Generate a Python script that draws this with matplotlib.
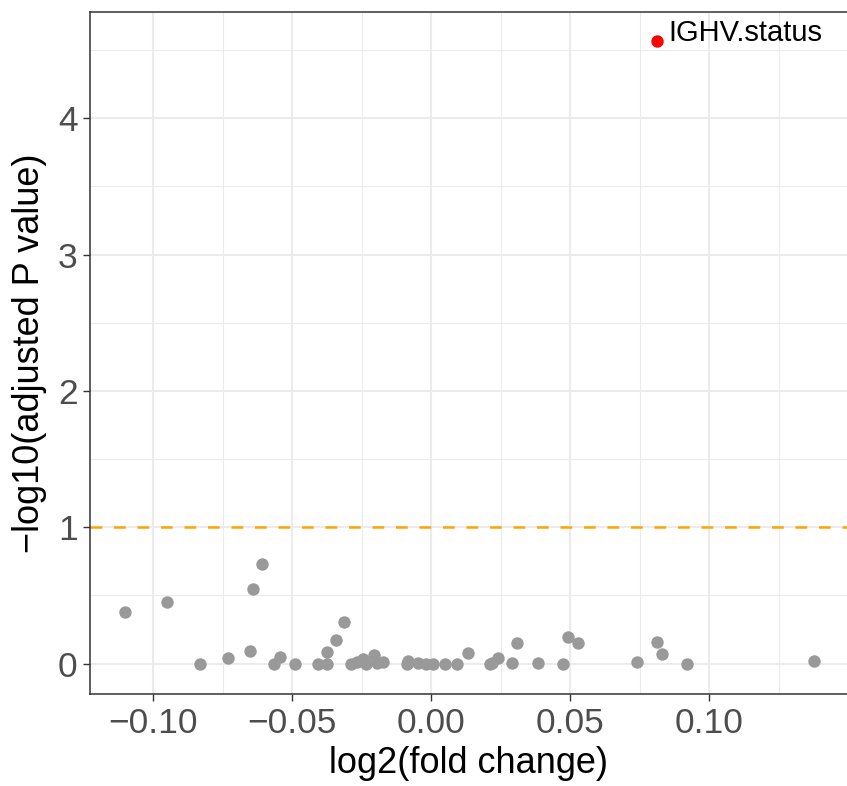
import numpy as np
import matplotlib.pyplot as plt

plt.rcParams['font.family'] = ['Liberation Sans', 'DejaVu Sans']

# log2 fold change and -log10 adjusted p of the non-significant features
logfc = [-0.1101, -0.0949, -0.0832, -0.0731, -0.0652, -0.0639, -0.0608, -0.0567,
         -0.0543, -0.0489, -0.0408, -0.0375, -0.0374, -0.0344, -0.0315, -0.0288,
         -0.0267, -0.0244, -0.0236, -0.0204, -0.0195, -0.0172, -0.0087, -0.0082,
         -0.0048, -0.0018, 0.0008, 0.0050, 0.0094, 0.0133, 0.0213, 0.0220,
         0.0242, 0.0290, 0.0308, 0.0384, 0.0476, 0.0494, 0.0530, 0.0740,
         0.0812, 0.0832, 0.0920, 0.1379]
logp = [0.378, 0.450, 0.0, 0.043, 0.092, 0.548, 0.730, 0.0,
        0.045, 0.0, 0.0, 0.0, 0.087, 0.175, 0.302, 0.0,
        0.010, 0.030, 0.0, 0.060, 0.003, 0.010, 0.0, 0.015,
        0.003, 0.0, 0.0, 0.0, 0.0, 0.080, 0.0, 0.003,
        0.038, 0.003, 0.153, 0.003, 0.0, 0.197, 0.148, 0.010,
        0.160, 0.070, 0.0, 0.020]

# the one significant feature
sig_name = "IGHV.status"
sig_fc = 0.0813
sig_p = 4.566

cutoff = 1.0

fig = plt.figure(figsize=(8.47, 7.86), dpi=100)
ax = fig.add_axes([0.1063, 0.117, 0.8937, 0.8678])

ax.scatter(logfc, logp, s=80, color='#999999', linewidths=0, zorder=3)
ax.scatter([sig_fc], [sig_p], s=80, color='#FF0000', linewidths=0, zorder=4)
ax.annotate(sig_name, (sig_fc, sig_p), xytext=(8, 0), textcoords='offset points',
            fontsize=21, color='black', va='baseline', ha='left')

ax.axhline(cutoff, color='#FFA500', lw=1.8, dashes=(4.7, 4.7), zorder=2)

ax.set_xticks([-0.10, -0.05, 0.00, 0.05, 0.10])
ax.set_xticklabels(['\u22120.10', '\u22120.05', '0.00', '0.05', '0.10'])
ax.set_yticks([0, 1, 2, 3, 4])
ax.set_xticks([-0.125, -0.075, -0.025, 0.025, 0.075, 0.125], minor=True)
ax.set_yticks([0.5, 1.5, 2.5, 3.5, 4.5], minor=True)
ax.set_xlim(-0.1227, 0.1496)
ax.set_ylim(-0.224, 4.78)

ax.grid(which='major', color='#EBEBEB', lw=1.5, zorder=0)
ax.grid(which='minor', color='#EBEBEB', lw=0.75, zorder=0)
ax.set_axisbelow(True)

ax.tick_params(which='major', labelsize=25.5, labelcolor='#4D4D4D', color='#333333',
               length=5, width=1.0, pad=4)
ax.tick_params(which='minor', length=0)
for side in ['left', 'bottom', 'top']:
    ax.spines[side].set_color('#333333')
    ax.spines[side].set_linewidth(1.1)
ax.spines['right'].set_visible(False)

ax.set_xlabel('log2(fold change)', fontsize=26, labelpad=5)
ax.set_ylabel('\u2212log10(adjusted P value)', fontsize=26, labelpad=8)

fig.savefig('out.png', dpi=100)
